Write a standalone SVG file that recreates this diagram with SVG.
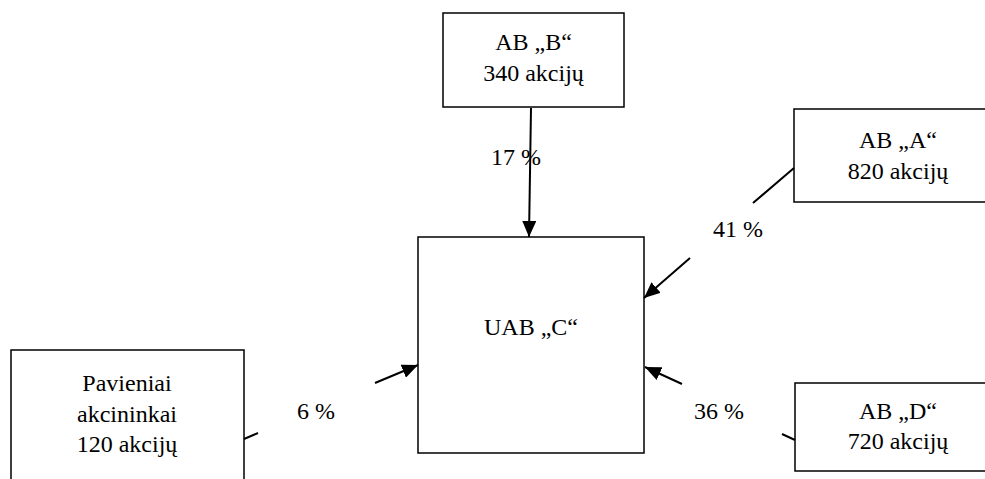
<svg xmlns="http://www.w3.org/2000/svg" width="985" height="479" viewBox="0 0 985 479">
  <style>
    .box { fill: #ffffff; stroke: #000000; stroke-width: 1.5; }
    .t { font-family: 'Liberation Serif', 'Times New Roman', 'DejaVu Serif', serif; font-size: 24px; fill: #000000; }
    .c { text-anchor: middle; }
    .conn { fill: none; stroke: #000000; stroke-width: 2; }
  </style>
  <defs>
    <marker id="arrow" markerUnits="userSpaceOnUse" markerWidth="17" markerHeight="14" refX="16" refY="7" orient="auto">
      <path d="M0,0 L16,7 L0,14 z" fill="#000000"/>
    </marker>
  </defs>

  <g id="node-b">
    <rect class="box" x="443" y="13" width="181" height="94"/>
    <text class="t c" x="533.5" y="50" font-family="Liberation Serif, serif">AB „B“</text>
    <text class="t c" x="533.5" y="81" font-family="Liberation Serif, serif">340 akcijų</text>
  </g>

  <g id="node-a">
    <rect class="box" x="794" y="109" width="210" height="93"/>
    <text class="t c" x="898" y="148">AB „A“</text>
    <text class="t c" x="898" y="179">820 akcijų</text>
  </g>

  <g id="node-c">
    <rect class="box" x="418" y="237" width="226" height="216"/>
    <text class="t c" x="531" y="335">UAB „C“</text>
  </g>

  <g id="node-pavieniai">
    <rect class="box" x="11" y="350" width="233" height="140"/>
    <text class="t c" x="127" y="391">Pavieniai</text>
    <text class="t c" x="127" y="422">akcininkai</text>
    <text class="t c" x="127" y="452">120 akcijų</text>
  </g>

  <g id="node-d">
    <rect class="box" x="795" y="383" width="210" height="88"/>
    <text class="t c" x="898" y="419">AB „D“</text>
    <text class="t c" x="898" y="449">720 akcijų</text>
  </g>

  <g id="connectors">
    <path class="conn" d="M531,108 L529,237" marker-end="url(#arrow)"/>
    <text class="t" x="491" y="165">17 %</text>

    <path class="conn" d="M794,168 L753,203 M690,258 L644,298" marker-end="url(#arrow)"/>
    <text class="t" x="713" y="237">41 %</text>

    <path class="conn" d="M244,439 L258,433 M375,383 L418,365" marker-end="url(#arrow)"/>
    <text class="t" x="297" y="419">6 %</text>

    <path class="conn" d="M795,440 L782,434 M682,384 L645,367" marker-end="url(#arrow)"/>
    <text class="t" x="694" y="419">36 %</text>
  </g>
</svg>
